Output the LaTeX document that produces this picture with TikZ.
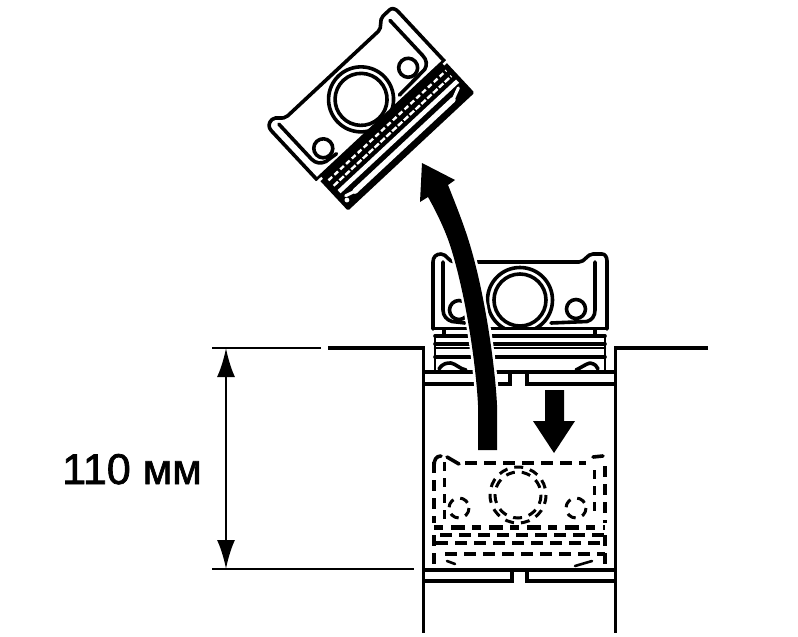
\documentclass[tikz,border=0pt]{standalone}
\usepackage{fontspec}
\setmainfont{Liberation Sans}[FakeBold=1.6]
\usetikzlibrary{arrows.meta}
\tikzset{
  x=1pt,y=-1pt,
  ink/.style={line width=3.6pt,line cap=round,line join=round},
  thin ink/.style={line width=2.6pt,line cap=round,line join=round},
  wall/.style={line width=3.2pt},
  dim/.style={line width=2.6pt},
  hid/.style={line width=4pt,dash pattern=on 11pt off 7pt},
  hid thick/.style={line width=4.6pt,dash pattern=on 12pt off 7pt},
  hid blob/.style={line width=5pt,dash pattern=on 9pt off 8pt on 14pt off 7pt},
  hid thin/.style={line width=3pt,dash pattern=on 9pt off 7pt},
  pistonskirt/.pic={
    \draw[ink] (-84,20) -- (-84,-47) .. controls (-84,-52) and (-81,-55) .. (-76,-55)
      .. controls (-70,-55) and (-69,-47) .. (-62,-47) -- (62,-47)
      .. controls (68,-47) and (70,-55) .. (76,-55) -- (85,-55)
      .. controls (88,-55) and (90,-52) .. (90,-48) -- (90,20);
    \draw[ink] (-84,19.5) -- (90,19.5);
    \draw[ink] (-74,-47) -- (-74,1) .. controls (-74,7) and (-70,11) .. (-65,12.5) -- (-52,14);
    \draw[ink] (78,-47) -- (78,1) .. controls (78,7) and (75,11) .. (70,12.5) -- (34,14);
    \begin{scope}
      \clip (-40,-50) rectangle (50,19);
      \draw[ink] (3,-9) circle[radius=32.5];
      \draw[ink] (3,-9) circle[radius=26];
    \end{scope}
    \draw[ink] (-58,1) circle[radius=9.5];
    \draw[ink] (59,0) circle[radius=9.5];
  }
}
\begin{document}
\begin{tikzpicture}
\useasboundingbox (0,0) rectangle (798,637);
\fill[white] (0,0) rectangle (798,637);

% Raised piston
\pic[rotate=43] at (365,108) {pistonskirt};
\begin{scope}[shift={(365,108)},rotate=43]
  \fill[line join=round,draw,line width=3pt] (-81,20) -- (-81,62) -- (89,62) -- (89,20) -- cycle;
  \fill[white] (-86,20.5) rectangle (-79,23);
  \fill[white] (87,20.5) rectangle (92,23);
  \draw[white,line width=2.4pt,dash pattern=on 5pt off 3pt] (-76,28) -- (85,28);
  \draw[white,line width=2.4pt,dash pattern=on 6pt off 2pt] (-76,35.5) -- (85,35.5);
  \draw[white,line width=4.4pt] (-76,43.5) -- (86,43.5);
  \draw[white,line width=5.4pt,line cap=round] (-64,54) -- (70,54);
  \draw[white,line width=3pt,line cap=round] (70,54) -- (82,49);
  \draw[white,line width=3pt,line cap=round] (-64,54) -- (-74,51);
  \fill[white] (-76,55) circle[radius=2.4];
\end{scope}

% Piston in the cylinder
\pic at (517,309) {pistonskirt};
\draw[thin ink] (435,336) -- (435,372);
\draw[thin ink] (605,336) -- (605,372);
\draw[ink] (444,329) -- (444,335);
\draw[ink] (595,329) -- (595,335);
\draw[ink] (435,336) -- (605,336);
\draw[ink] (435,344) -- (605,344);
\draw[thin ink] (435,348) -- (605,348);
\draw[ink] (435,357) -- (605,357);
\draw[ink] (439,369) .. controls (443,363) and (447,363) .. (451,363) .. controls (456,364) and (460,369) .. (466,370);
\draw[ink] (576,370) .. controls (582,367) and (586,364) .. (590,363) .. controls (595,364) and (597,366) .. (598,369);

% Cylinder block
\coordinate (ftl) at (328,348);
\coordinate (fbl) at (423.5,348);
\draw[wall] (ftl) -- (fbl) -- (423.5,633);
\draw[wall] (708,348) -- (615.5,348) -- (615.5,633);
\draw[line width=4pt] (423,372) -- (616,372);
\draw[wall] (423,384) -- (510,384) -- (510,372);
\draw[wall] (616,384) -- (527,384) -- (527,372);
\draw[line width=4pt] (423,570) -- (616,570);
\draw[wall] (423,581) -- (512,581) -- (512,570);
\draw[wall] (616,581) -- (527,581) -- (527,570);

% Hidden piston
\draw[hid] (434,462) -- (434,523);
\draw[hid] (605,466) -- (605,523);
\draw[ink] (434,466) .. controls (434,460) and (436,456) .. (441,456);
\draw[ink] (447,457) -- (459,464);
\draw[ink] (593,457) -- (603,456);
\draw[hid thick] (465,463) -- (586,463);
\draw[hid thin] (444,462) -- (444,520);
\draw[hid thin] (594,470) -- (594,518);
\draw[hid thin] (518,495) circle[radius=23];
\draw[hid thin] (518,495) circle[radius=28];
\draw[hid thin] (459,508) circle[radius=10];
\draw[hid thin] (576,508) circle[radius=10];
\draw[hid blob] (434,527) -- (605,527);
\draw[hid thick] (440,535) -- (605,535);
\draw[hid thick] (436,543) -- (605,543);
\draw[hid thick] (445,554) -- (605,554);
\draw[hid] (434,535) -- (434,566);
\draw[hid] (605,535) -- (605,566);
\draw[thin ink] (447,561) -- (455,564);
\draw[thin ink] (575,566) -- (592,561);

% Dimension
\coordinate (dimtop) at (226,348);
\coordinate (dimbot) at (226,569);
\draw[dim] (212,348) -- (321,348);
\draw[dim] (212,569) -- (414,569);
\draw[dim,{Latex[length=29pt,width=18pt]}-{Latex[length=29pt,width=18pt]}] (dimtop) -- (dimbot);
\node[anchor=base west,inner sep=0pt,font=\fontsize{43}{43}\selectfont] (dimlabel) at (62,484) {110 мм};

% Down arrow
\fill (545,390) -- (564,390) -- (564,421) -- (575,421) -- (554,453) -- (533,421) -- (545,421) -- cycle;

% Big curved arrow
\path[draw=white,line width=5pt,fill=white] (478,450) -- (478,405)
  .. controls (476,365) and (466,295) .. (450,245)
  .. controls (445,230) and (437,213) .. (428,197)
  -- (420,202) -- (422,163) -- (455,180) -- (448,185)
  .. controls (456,205) and (464,225) .. (470,245)
  .. controls (485,295) and (495,365) .. (497,405) -- (497,450) -- cycle;
\fill (478,450) -- (478,405)
  .. controls (476,365) and (466,295) .. (450,245)
  .. controls (445,230) and (437,213) .. (428,197)
  -- (420,202) -- (422,163) -- (455,180) -- (448,185)
  .. controls (456,205) and (464,225) .. (470,245)
  .. controls (485,295) and (495,365) .. (497,405) -- (497,450) -- cycle;
\end{tikzpicture}
\end{document}
